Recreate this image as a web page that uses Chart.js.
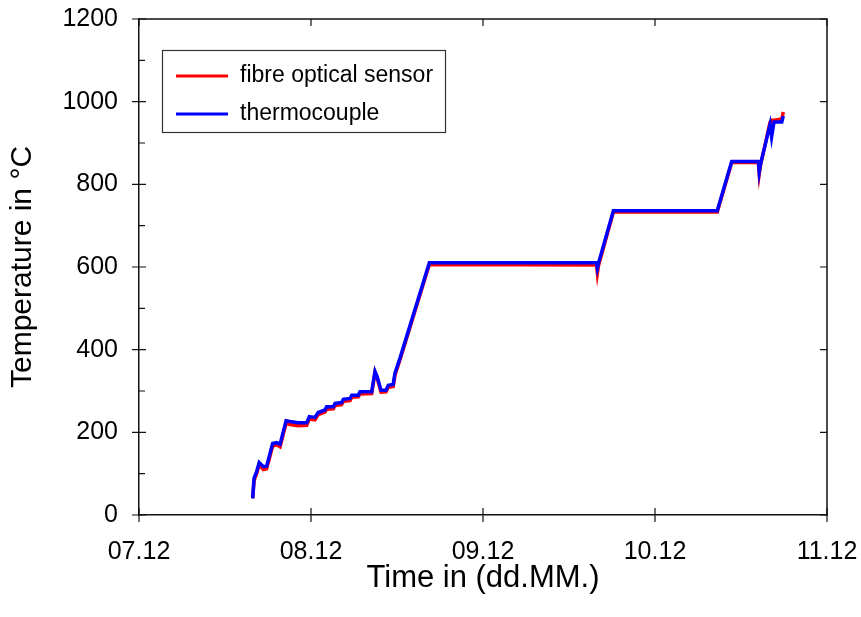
<!DOCTYPE html>
<html>
<head>
<meta charset="utf-8">
<script src="https://cdn.jsdelivr.net/npm/chart.js@4.4.1/dist/chart.umd.min.js"></script>
<style>
  html, body { margin: 0; padding: 0; background: #fff; }
  #wrap { width: 861px; height: 617px; }
</style>
</head>
<body>
<div id="wrap"><canvas id="chart" width="861" height="617"></canvas></div>
<script>
// time in days after 07.12 00:00
const times = [0.661, 0.669, 0.684, 0.699, 0.723, 0.742, 0.777, 0.801, 0.820, 0.855,
  0.878, 0.924, 0.975, 0.990, 1.023, 1.042, 1.081, 1.091, 1.130, 1.140,
  1.178, 1.188, 1.227, 1.237, 1.275, 1.285, 1.353, 1.372, 1.385, 1.407,
  1.436, 1.449, 1.478, 1.488, 1.517, 1.688, 2.660, 2.665, 2.672, 2.758,
  3.362, 3.446, 3.601, 3.606, 3.613, 3.669, 3.678, 3.692, 3.737, 3.746];

const fibreTemps = [40, 84, 100, 122, 110, 112, 167, 170, 165, 222,
  219, 216, 217, 232, 230, 243, 249, 256, 257, 265,
  267, 275, 277, 285, 286, 293, 294, 345, 330, 297,
  298, 309, 311, 338, 375, 606, 605, 585, 604, 733,
  733, 853, 853, 825, 845, 950, 955, 955, 958, 975];

const thermoTemps = [40, 89, 105, 127, 117, 118, 173, 175, 171, 228,
  226, 223, 223, 238, 236, 248, 254, 262, 262, 270,
  272, 280, 282, 290, 290, 298, 298, 347, 334, 302,
  302, 314, 316, 343, 379, 610, 610, 597, 610, 736,
  736, 855, 855, 830, 848, 945, 915, 951, 951, 965];

const dayLabels = ['07.12', '08.12', '09.12', '10.12', '11.12'];
const seriesNames = ['fibre optical sensor', 'thermocouple'];
const seriesColors = ['#ff0000', '#0000ff'];

const FONT = "'Liberation Sans', Arial, sans-serif";

const toPoints = vals => times.map((t, i) => ({ x: t, y: vals[i] }));

// ticks + frame + boxed legend like the original plot
const framePlugin = {
  id: 'frame',
  afterDraw(chart) {
    const { ctx, chartArea: a, scales: { x, y } } = chart;
    ctx.save();
    ctx.strokeStyle = '#111';
    ctx.lineWidth = 1.5;
    ctx.beginPath();
    ctx.moveTo(a.left, a.top); ctx.lineTo(a.right, a.top); ctx.lineTo(a.right, a.bottom);
    ctx.stroke();

    ctx.lineWidth = 1.2;
    ctx.beginPath();
    for (let v = 0; v <= 1200; v += 100) {
      const py = y.getPixelForValue(v);
      if (v % 200 === 0) {
        ctx.moveTo(a.left - 7, py); ctx.lineTo(a.left + 7, py);
        ctx.moveTo(a.right - 7, py); ctx.lineTo(a.right, py);
      } else {
        ctx.moveTo(a.left, py); ctx.lineTo(a.left + 6, py);
      }
    }
    for (let d = 0; d < dayLabels.length; d++) {
      const px = x.getPixelForValue(d);
      ctx.moveTo(px, a.bottom - 7); ctx.lineTo(px, a.bottom + 7);
      ctx.moveTo(px, a.top); ctx.lineTo(px, a.top + 7);
    }
    ctx.stroke();

    // legend box
    const bx = 162, by = 50, bw = 283, bh = 82;
    ctx.lineWidth = 1.2;
    ctx.strokeStyle = '#333';
    ctx.strokeRect(bx + 0.5, by + 0.5, bw, bh);
    ctx.font = '23px ' + FONT;
    ctx.textBaseline = 'middle';
    ctx.fillStyle = '#000';
    seriesNames.forEach((name, i) => {
      const ly = 76 + i * 38;
      ctx.strokeStyle = seriesColors[i];
      ctx.lineWidth = 3;
      ctx.beginPath();
      ctx.moveTo(176, ly); ctx.lineTo(228, ly);
      ctx.stroke();
      ctx.fillText(name, 240, ly);
    });
    ctx.restore();
  }
};

new Chart(document.getElementById('chart'), {
  type: 'line',
  data: {
    datasets: [
      {
        label: seriesNames[0],
        data: toPoints(fibreTemps),
        borderColor: seriesColors[0],
        borderWidth: 3.5,
        pointRadius: 0,
        tension: 0,
        order: 1
      },
      {
        label: seriesNames[1],
        data: toPoints(thermoTemps),
        borderColor: seriesColors[1],
        borderWidth: 3.5,
        pointRadius: 0,
        tension: 0,
        order: 0
      }
    ]
  },
  options: {
    responsive: false,
    animation: false,
    layout: { padding: { left: 0, top: 19, right: 34, bottom: 0 } },
    plugins: { legend: { display: false }, tooltip: { enabled: false } },
    scales: {
      x: {
        type: 'linear',
        min: 0, max: 4,
        grid: { display: false, drawTicks: false },
        border: { display: true, color: '#111', width: 1.5 },
        ticks: {
          stepSize: 1,
          padding: 22,
          color: '#000',
          font: { family: FONT, size: 25 },
          maxRotation: 0,
          callback: v => dayLabels[v] ?? ''
        },
        title: {
          display: true,
          text: 'Time in (dd.MM.)',
          color: '#000',
          font: { family: FONT, size: 31 },
          padding: { top: 0, bottom: 20 }
        },
        afterFit: s => { s.height = 102; s.paddingLeft = 0; s.paddingRight = 0; }
      },
      y: {
        min: 0, max: 1200,
        grid: { display: false, drawTicks: false },
        border: { display: true, color: '#111', width: 1.5 },
        ticks: {
          stepSize: 200,
          padding: 21,
          color: '#000',
          font: { family: FONT, size: 25 },
          callback: v => String(v)
        },
        title: {
          display: true,
          text: 'Temperature in °C',
          color: '#000',
          font: { family: FONT, size: 30 },
          padding: { top: 5, bottom: 0 }
        },
        afterFit: s => { s.width = 139; s.paddingTop = 0; s.paddingBottom = 0; }
      }
    }
  },
  plugins: [framePlugin]
});
</script>
</body>
</html>
